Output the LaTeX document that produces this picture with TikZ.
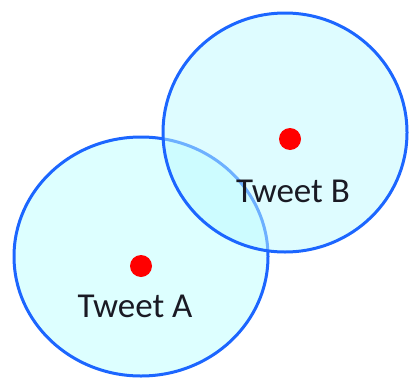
\documentclass[tikz,border=0pt]{standalone}
\usepackage{fontspec}
\setmainfont{Carlito}
\definecolor{ringblue}{RGB}{28,102,255}
\definecolor{zonefill}{RGB}{221,255,255}
\definecolor{zonetint}{RGB}{190,250,255}
\definecolor{dotred}{RGB}{255,0,0}
\definecolor{labelink}{RGB}{26,26,36}
\begin{document}
\begin{tikzpicture}[x=1pt,y=-1pt,
  zone/.style={draw=ringblue,line width=3pt},
  tweetdot/.style={circle,fill=dotred,inner sep=0pt,minimum size=22pt},
  tweetlabel/.style={anchor=base,text=labelink,font=\fontsize{35}{35}\selectfont,inner sep=0pt}]
  \useasboundingbox (0,0) rectangle (409,380);
  % neighbourhood of tweet A
  \draw[zone,fill=zonefill] (141,256.5) ellipse [x radius=127, y radius=119.5];
  % neighbourhood of tweet B, translucent so the overlap shows through
  \draw[zone,fill=zonetint,fill opacity=0.5] (285,132.5) ellipse [x radius=122, y radius=119.5];
  \node[tweetdot] (a) at (141,266) {};
  \node[tweetdot] (b) at (290,139) {};
  \node[tweetlabel] (la) at (135,317) {Tweet A};
  \node[tweetlabel] (lb) at (293,202) {Tweet B};
\end{tikzpicture}
\end{document}
